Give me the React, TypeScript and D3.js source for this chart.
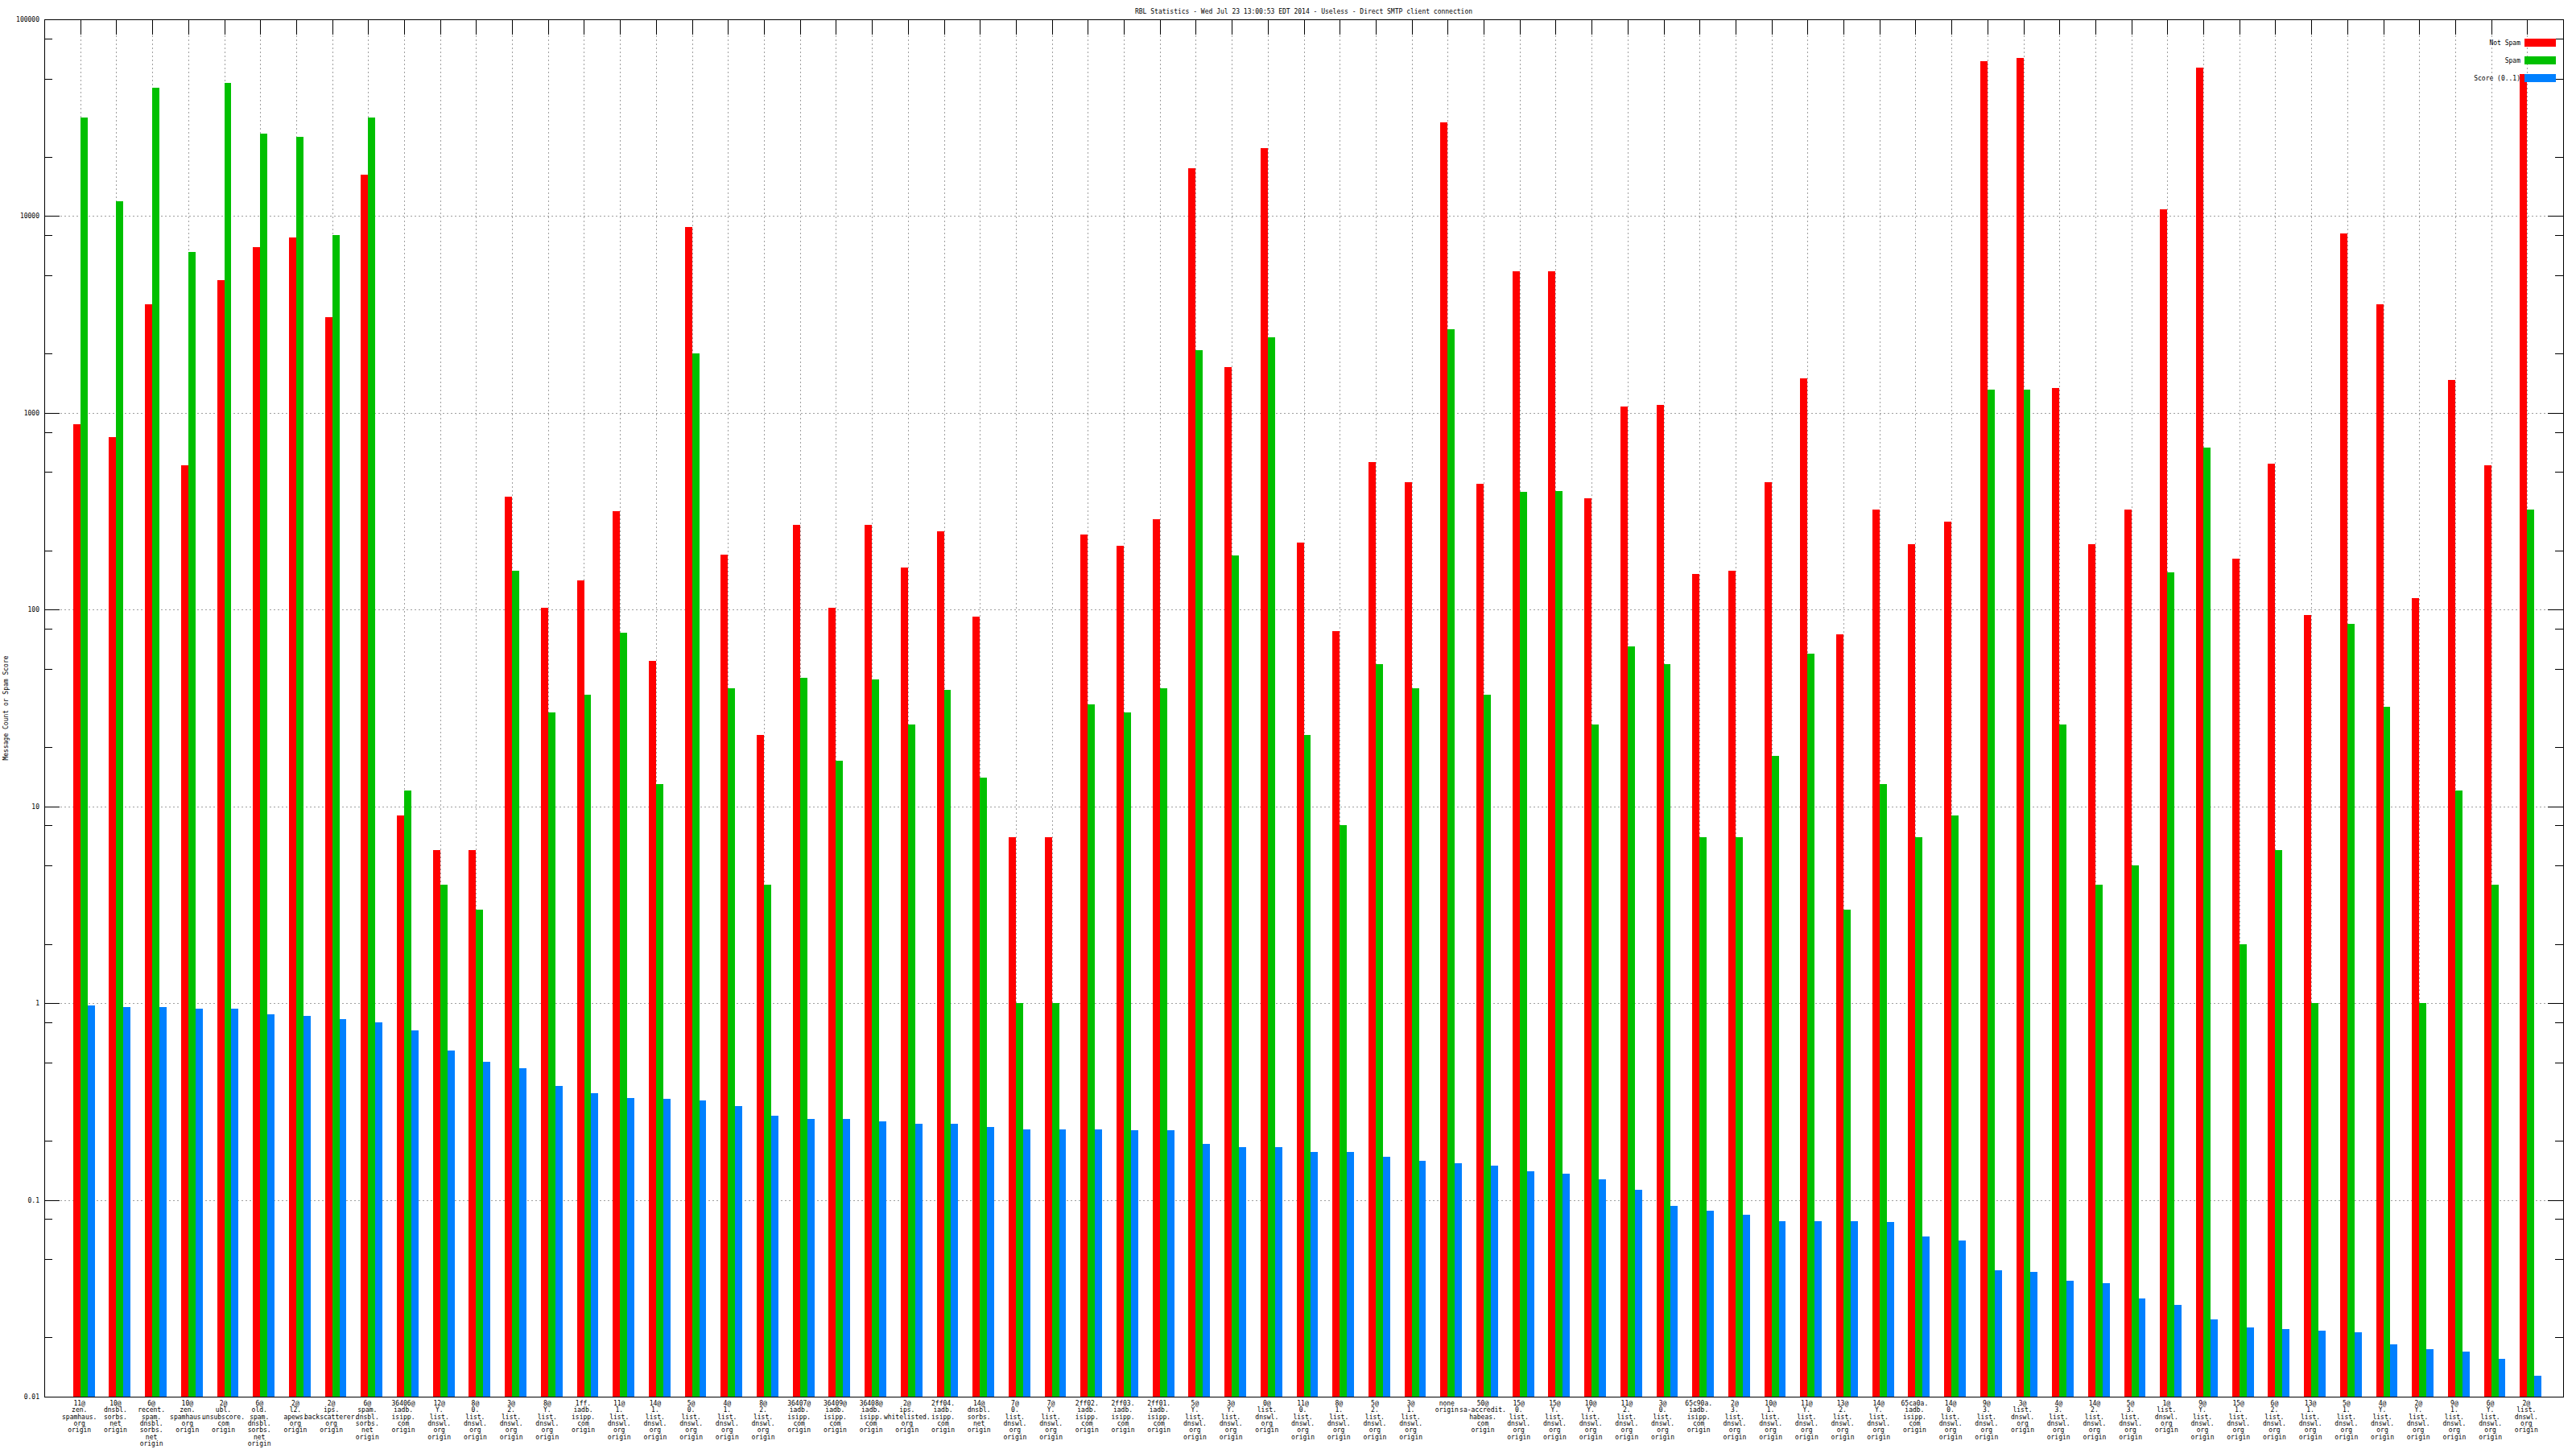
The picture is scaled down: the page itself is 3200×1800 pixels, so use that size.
import React from 'react';
import * as d3 from 'd3';

const categories: string[] = [
  "11@\nzen.\nspamhaus.\norg\norigin",
  "10@\ndnsbl.\nsorbs.\nnet\norigin",
  "6@\nrecent.\nspam.\ndnsbl.\nsorbs.\nnet\norigin",
  "10@\nzen.\nspamhaus.\norg\norigin",
  "2@\nubl.\nunsubscore.\ncom\norigin",
  "6@\nold.\nspam.\ndnsbl.\nsorbs.\nnet\norigin",
  "2@\nl2.\napews.\norg\norigin",
  "2@\nips.\nbackscatterer.\norg\norigin",
  "6@\nspam.\ndnsbl.\nsorbs.\nnet\norigin",
  "36406@\niadb.\nisipp.\ncom\norigin",
  "12@\nY.\nlist.\ndnswl.\norg\norigin",
  "8@\n0.\nlist.\ndnswl.\norg\norigin",
  "3@\n2.\nlist.\ndnswl.\norg\norigin",
  "8@\nY.\nlist.\ndnswl.\norg\norigin",
  "1ff.\niadb.\nisipp.\ncom\norigin",
  "11@\n1.\nlist.\ndnswl.\norg\norigin",
  "14@\n1.\nlist.\ndnswl.\norg\norigin",
  "5@\n0.\nlist.\ndnswl.\norg\norigin",
  "4@\n1.\nlist.\ndnswl.\norg\norigin",
  "8@\n2.\nlist.\ndnswl.\norg\norigin",
  "36407@\niadb.\nisipp.\ncom\norigin",
  "36409@\niadb.\nisipp.\ncom\norigin",
  "36408@\niadb.\nisipp.\ncom\norigin",
  "2@\nips.\nwhitelisted.\norg\norigin",
  "2ff04.\niadb.\nisipp.\ncom\norigin",
  "14@\ndnsbl.\nsorbs.\nnet\norigin",
  "7@\n0.\nlist.\ndnswl.\norg\norigin",
  "7@\nY.\nlist.\ndnswl.\norg\norigin",
  "2ff02.\niadb.\nisipp.\ncom\norigin",
  "2ff03.\niadb.\nisipp.\ncom\norigin",
  "2ff01.\niadb.\nisipp.\ncom\norigin",
  "5@\nY.\nlist.\ndnswl.\norg\norigin",
  "3@\nY.\nlist.\ndnswl.\norg\norigin",
  "0@\nlist.\ndnswl.\norg\norigin",
  "11@\n0.\nlist.\ndnswl.\norg\norigin",
  "8@\n1.\nlist.\ndnswl.\norg\norigin",
  "5@\n2.\nlist.\ndnswl.\norg\norigin",
  "3@\n1.\nlist.\ndnswl.\norg\norigin",
  "none\norigin",
  "50@\nsa-accredit.\nhabeas.\ncom\norigin",
  "15@\n0.\nlist.\ndnswl.\norg\norigin",
  "15@\nY.\nlist.\ndnswl.\norg\norigin",
  "10@\nY.\nlist.\ndnswl.\norg\norigin",
  "11@\n2.\nlist.\ndnswl.\norg\norigin",
  "3@\n0.\nlist.\ndnswl.\norg\norigin",
  "65c90a.\niadb.\nisipp.\ncom\norigin",
  "2@\n3.\nlist.\ndnswl.\norg\norigin",
  "10@\n1.\nlist.\ndnswl.\norg\norigin",
  "11@\nY.\nlist.\ndnswl.\norg\norigin",
  "13@\n2.\nlist.\ndnswl.\norg\norigin",
  "14@\nY.\nlist.\ndnswl.\norg\norigin",
  "65ca0a.\niadb.\nisipp.\ncom\norigin",
  "14@\n0.\nlist.\ndnswl.\norg\norigin",
  "9@\n3.\nlist.\ndnswl.\norg\norigin",
  "3@\nlist.\ndnswl.\norg\norigin",
  "4@\n3.\nlist.\ndnswl.\norg\norigin",
  "14@\n2.\nlist.\ndnswl.\norg\norigin",
  "5@\n3.\nlist.\ndnswl.\norg\norigin",
  "1@\nlist.\ndnswl.\norg\norigin",
  "9@\nY.\nlist.\ndnswl.\norg\norigin",
  "15@\n1.\nlist.\ndnswl.\norg\norigin",
  "6@\n2.\nlist.\ndnswl.\norg\norigin",
  "13@\n1.\nlist.\ndnswl.\norg\norigin",
  "5@\n1.\nlist.\ndnswl.\norg\norigin",
  "4@\nY.\nlist.\ndnswl.\norg\norigin",
  "2@\nY.\nlist.\ndnswl.\norg\norigin",
  "9@\n1.\nlist.\ndnswl.\norg\norigin",
  "6@\nY.\nlist.\ndnswl.\norg\norigin",
  "2@\nlist.\ndnswl.\norg\norigin",
];

const notSpam: number[] = [
  875, 750, 3560, 540, 4740, 6970, 7820, 3050, 16200, 9,
  6, 6, 375, 102, 141, 316, 55, 8770, 191, 23,
  270, 102, 270, 164, 250, 92, 7, 7, 241, 211,
  287, 17500, 1714, 22100, 219, 78, 562, 446, 30000, 437,
  5230, 5230, 368, 1080, 1100, 152, 158, 446, 1500, 75,
  322, 215, 281, 61000, 63500, 1334, 215, 322, 10800, 56600,
  181, 551, 94, 8130, 3560, 114, 1470, 540, 52500,
];

const spam: number[] = [
  31800, 11900, 45000, 6580, 47600, 26200, 25200, 7980, 31800, 12,
  4, 3, 158, 30, 37, 76, 13, 2000, 40, 4,
  45, 17, 44, 26, 39, 14, 1, 1, 33, 30,
  40, 2075, 188, 2420, 23, 8, 53, 40, 2670, 37,
  397, 400, 26, 65, 53, 7, 7, 18, 60, 3,
  13, 7, 9, 1310, 1310, 26, 4, 5, 155, 668,
  2, 6, 1, 85, 32, 1, 12, 4, 322,
];

const score: number[] = [
  0.97, 0.955, 0.955, 0.935, 0.935, 0.88, 0.865, 0.83, 0.80, 0.73,
  0.577, 0.505, 0.467, 0.378, 0.35, 0.33, 0.325, 0.32, 0.30, 0.267,
  0.257, 0.257, 0.25, 0.243, 0.243, 0.234, 0.229, 0.229, 0.229, 0.225,
  0.225, 0.193, 0.186, 0.186, 0.175, 0.175, 0.165, 0.158, 0.153, 0.15,
  0.14, 0.136, 0.127, 0.113, 0.093, 0.088, 0.084, 0.078, 0.078, 0.078,
  0.077, 0.065, 0.062, 0.0439, 0.043, 0.039, 0.0377, 0.0317, 0.0293, 0.0247,
  0.0224, 0.022, 0.0216, 0.0212, 0.0185, 0.0174, 0.017, 0.0156, 0.0128,
];

const yTicks: number[] = [0.01, 0.1, 1, 10, 100, 1000, 10000, 100000];
const yTickLabels: string[] = ["0.01", "0.1", "1", "10", "100", "1000", "10000", "100000"];
const minorMultipliers: number[] = [2, 5, 8];
const seriesNames: string[] = ["Not Spam", "Spam", "Score (0..1)"];
const seriesColors: string[] = ["#ff0000", "#00c000", "#0080ff"];
const title = "RBL Statistics - Wed Jul 23 13:00:53 EDT 2014 - Useless - Direct SMTP client connection";
const yTitle = "Message Count or Spam Score";

const FONT = "'DejaVu Sans Mono', monospace";

export default function App() {
  const W = 3200, H = 1800;
  const left = 55, right = 3184, top = 24, bottom = 1735;
  const x = d3.scaleLinear().domain([-1, categories.length]).range([left, right]);
  const y = d3.scaleLog().domain([0.01, 100000]).range([bottom, top]);
  const bw = x(0.2) - x(0);
  const series = [notSpam, spam, score];

  const minorTicks: number[] = [];
  for (let d = -2; d <= 4; d++) {
    for (const m of minorMultipliers) minorTicks.push(m * Math.pow(10, d));
  }

  const legendX1 = 3136, legendX2 = 3175, legendTextX = 3131;
  const legendRowY = [53, 75, 97];

  return (
    <svg width={W} height={H} style={{ position: 'absolute', left: 0, top: 0, background: '#fff' }}
      fontFamily={FONT} fontSize={8}>
      <rect x={0} y={0} width={W} height={H} fill="#fff" />
      {/* grid */}
      <g stroke="#a0a0a0" strokeWidth={1} strokeDasharray="2,3" shapeRendering="crispEdges">
        {yTicks.slice(1, -1).map((t, i) => (
          <line key={'gy' + i} x1={left} x2={right} y1={Math.round(y(t)) + 0.5} y2={Math.round(y(t)) + 0.5} />
        ))}
        {categories.map((_, i) => (
          <line key={'gx' + i} x1={Math.round(x(i)) + 0.5} x2={Math.round(x(i)) + 0.5} y1={top} y2={bottom} />
        ))}
      </g>
      {/* ticks */}
      <g stroke="#000" strokeWidth={1} shapeRendering="crispEdges">
        {yTicks.map((t, i) => (
          <g key={'ty' + i}>
            <line x1={left} x2={left + 19} y1={Math.round(y(t)) + 0.5} y2={Math.round(y(t)) + 0.5} />
            <line x1={right - 19} x2={right} y1={Math.round(y(t)) + 0.5} y2={Math.round(y(t)) + 0.5} />
          </g>
        ))}
        {minorTicks.map((t, i) => (
          <g key={'tm' + i}>
            <line x1={left} x2={left + 10} y1={Math.round(y(t)) + 0.5} y2={Math.round(y(t)) + 0.5} />
            <line x1={right - 10} x2={right} y1={Math.round(y(t)) + 0.5} y2={Math.round(y(t)) + 0.5} />
          </g>
        ))}
        {categories.map((_, i) => (
          <g key={'tx' + i}>
            <line x1={Math.round(x(i)) + 0.5} x2={Math.round(x(i)) + 0.5} y1={top} y2={top + 19} />
            <line x1={Math.round(x(i)) + 0.5} x2={Math.round(x(i)) + 0.5} y1={bottom} y2={bottom - 19} />
          </g>
        ))}
      </g>
      {/* series with legend */}
      {series.map((vals, s) => (
        <g key={'s' + s}>
          <text x={legendTextX} y={legendRowY[s] + 3} textAnchor="end" fill="#000">{seriesNames[s]}</text>
          <rect x={legendX1} y={legendRowY[s] - 5} width={legendX2 - legendX1} height={10} fill={seriesColors[s]} shapeRendering="crispEdges" />
          {vals.map((v, i) => {
            const x0 = x(i) + (s - 1) * bw;
            return (
              <rect key={i} x={x0} y={y(v)} width={bw} height={bottom - y(v)} fill={seriesColors[s]} shapeRendering="crispEdges" />
            );
          })}
        </g>
      ))}
      {/* border */}
      <rect x={left + 0.5} y={top + 0.5} width={right - left} height={bottom - top} fill="none" stroke="#000" strokeWidth={1} shapeRendering="crispEdges" />
      {/* y labels */}
      {yTicks.map((t, i) => (
        <text key={'yl' + i} x={49} y={y(t) + 3} textAnchor="end" fill="#000">{yTickLabels[i]}</text>
      ))}
      {/* x labels */}
      {categories.map((c, i) => (
        <text key={'xl' + i} x={x(i) - 1} y={1746} textAnchor="middle" fill="#000">
          {c.split('\n').map((line, j) => (
            <tspan key={j} x={x(i) - 1} y={1746 + j * 8.3}>{line}</tspan>
          ))}
        </text>
      ))}
      {/* title */}
      <text x={(left + right) / 2} y={17} textAnchor="middle" fill="#000">{title}</text>
      {/* y title */}
      <text transform={`translate(10, ${(top + bottom) / 2}) rotate(-90)`} textAnchor="middle" fill="#000">{yTitle}</text>
    </svg>
  );
}
